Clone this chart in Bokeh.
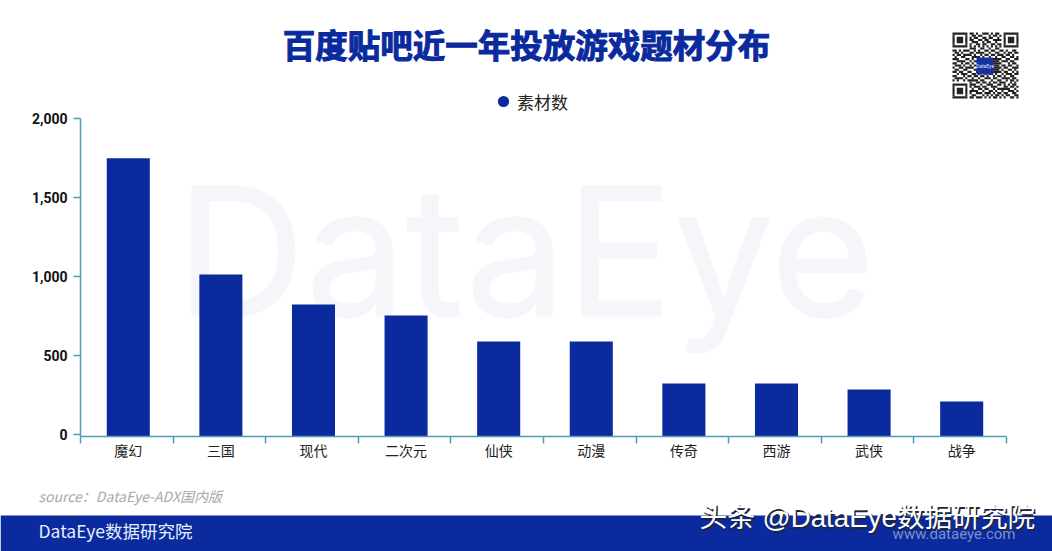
from bokeh.embed import file_html
from bokeh.resources import INLINE
from bokeh.models import BoxAnnotation, FixedTicker, Label, Legend, LegendItem, LinearAxis, Range1d
from bokeh.plotting import figure

categories = ["魔幻", "三国", "现代", "二次元", "仙侠", "动漫", "传奇", "西游", "武侠", "战争"]
values = [1748, 1013, 823, 753, 589, 589, 323, 323, 285, 209]
y_ticks = [0, 500, 1000, 1500, 2000]
y_tick_labels = ["0", "500", "1,000", "1,500", "2,000"]

qr_rows = [
    "1111111011010011101011001111111",
    "1000001001101100010110101000001",
    "1011101010110011011001001011101",
    "1011101011001101100111101011101",
    "1011101001110010110010001011101",
    "1000001010011011001101101000001",
    "1111111010101010101010101111111",
    "0000000011100110010011000000000",
    "1101011100101001101100110100110",
    "0110100011011110010011001011011",
    "1011011110100101101101110110100",
    "0100110001111010010010011001101",
    "1110001101000111111111100110011",
    "0011110010110111111111011101100",
    "1100101101001111111111100010110",
    "0111010010110111111111011011001",
    "1001101111000111111111101100111",
    "0110011000111111111111010011010",
    "1101100110010111111111101100101",
    "0010111001101001011010010111011",
    "1100010110110110100101101001100",
    "0111101001001001110110011110110",
    "1010010111110110001001100101101",
    "0000000010011011010110111001010",
    "1111111011100100111001101010110",
    "1000001010111011001110001101101",
    "1011101001001101100101111110010",
    "1011101011110010011010010011101",
    "1011101010011101110101101100110",
    "1000001001100010101011010110011",
    "1111111011011101010110101001101",
]

BLUE = "#0a2a9e"
TEAL = "#4f9db8"
OX, OY = 0, 0
W, H = 1052, 551
AX_L, AX_R, AX_T, AX_B = 80.0, 1006.0, 118.0, 434.0
AXIS_Y = -13  # the category axis sits slightly below the zero tick in the reference

n = len(categories)
px_x = (AX_R - AX_L) / n
px_y = (AX_B - AX_T) / y_ticks[-1]

p = figure(width=W, height=H, output_backend="svg", toolbar_location=None,
           x_axis_type=None, y_axis_type=None,
           x_range=Range1d((OX - AX_L) / px_x, (OX + W - AX_L) / px_x),
           y_range=Range1d((AX_B - OY - H) / px_y, (AX_B - OY) / px_y),
           min_border=0, background_fill_color="white", border_fill_color="white", outline_line_color=None)
p.grid.visible = False

shift = 0.016
centers = [i + 0.5 + shift for i in range(n)]
bounds = list(range(n + 1))

xaxis = LinearAxis(fixed_location=AXIS_Y, bounds=(0, n),
                   ticker=FixedTicker(ticks=centers, minor_ticks=bounds),
                   major_label_overrides=dict(zip(centers, categories)),
                   major_tick_line_color=None, major_tick_out=0, major_tick_in=0,
                   minor_tick_out=7, minor_tick_in=0, minor_tick_line_color=TEAL, minor_tick_line_width=1.5,
                   axis_line_color=TEAL, axis_line_width=1.5,
                   major_label_text_font="Noto Sans CJK SC", major_label_text_font_size="14px",
                   major_label_text_font_style="normal", major_label_text_color="#222222",
                   major_label_standoff=-4)
p.add_layout(xaxis, "below")

yaxis = LinearAxis(fixed_location=0, bounds=(AXIS_Y, y_ticks[-1]),
                   ticker=FixedTicker(ticks=y_ticks, minor_ticks=[]),
                   major_label_overrides=dict(zip(y_ticks, y_tick_labels)),
                   major_tick_out=7, major_tick_in=0, major_tick_line_color=TEAL, major_tick_line_width=1.5,
                   axis_line_color=TEAL, axis_line_width=1.5,
                   major_label_text_font="Roboto", major_label_text_font_size="14px",
                   major_label_text_font_style="bold", major_label_text_color="#111111",
                   major_label_standoff=6)
p.add_layout(yaxis, "left")

def text(s, x, y, size, color, font="Noto Sans CJK SC", style="normal", align="left", base="middle", level="annotation", outline=None):
    lab = Label(x=x - OX, y=H - (y - OY), x_units="screen", y_units="screen", text=s,
                text_font=font, text_font_size=size, text_font_style=style, text_color=color,
                text_align=align, text_baseline=base, level=level, text_outline_color=outline)
    p.add_layout(lab)
    return lab

def box(x0, y0, x1, y1, color, level="annotation"):
    b = BoxAnnotation(left=x0 - OX, right=x1 - OX, top=H - (y0 - OY), bottom=H - (y1 - OY),
                      left_units="screen", right_units="screen", top_units="screen", bottom_units="screen",
                      fill_color=color, fill_alpha=1, line_color=None, level=level, editable=False)
    p.add_layout(b)

# watermark behind the bars
text("DataEye", 525, 250, "179px", "#f4f6fa", font="Inter", align="center", level="underlay", outline="#f4f6fa")

bars = p.vbar(x=centers, top=values, width=0.465, bottom=AXIS_Y, fill_color=BLUE, line_color=None)
dot = p.scatter(x=[float("nan")], y=[float("nan")], marker="circle", size=12, fill_color=BLUE, line_color=None)

legend = Legend(items=[LegendItem(label="素材数", renderers=[dot])], location=(490, 434 - 0),
                background_fill_alpha=0, border_line_color=None, margin=0, padding=0,
                label_text_font="Noto Sans CJK SC", label_text_font_size="17px",
                label_text_color="#222222", label_standoff=0, glyph_width=28, glyph_height=28)
legend.location = (489, 436)
p.add_layout(legend, "center")

text("百度贴吧近一年投放游戏题材分布", 526, 43, "32.5px", BLUE, style="bold", align="center", outline=BLUE)
text("source：DataEye-ADX国内版", 38, 495, "14px", "#a8a8a8", style="italic")

# footer band
box(0, 515, 1060, 560, BLUE)
text("DataEye数据研究院", 38, 530, "17.5px", "#e8f0ff")
text("www.dataeye.com", 1015, 533, "15px", "#7f8fc9", font="Roboto", align="right")
stack = "Liberation Sans, Noto Sans CJK SC"
text("头条 @DataEye数据研究院", 700.5, 518.5, "27.7px", "#20263a", font=stack)
text("头条 @DataEye数据研究院", 699, 517, "27.7px", "#ffffff", font=stack)

# QR code
qx, qy, m = 952.0, 32.0, 66.0 / len(qr_rows)
for r, row in enumerate(qr_rows):
    c = 0
    while c < len(row):
        if row[c] == "1":
            e = c
            while e < len(row) and row[e] == "1":
                e += 1
            box(qx + c * m, qy + r * m, qx + e * m, qy + (r + 1) * m, "#222222")
            c = e
        else:
            c += 1
box(976, 57, 993, 74, "#17329f")
text("DataEye", 984.5, 65.5, "5px", "#dfe6ff", font="Roboto", align="center")

open("out.html", "w").write(file_html(p, INLINE))
